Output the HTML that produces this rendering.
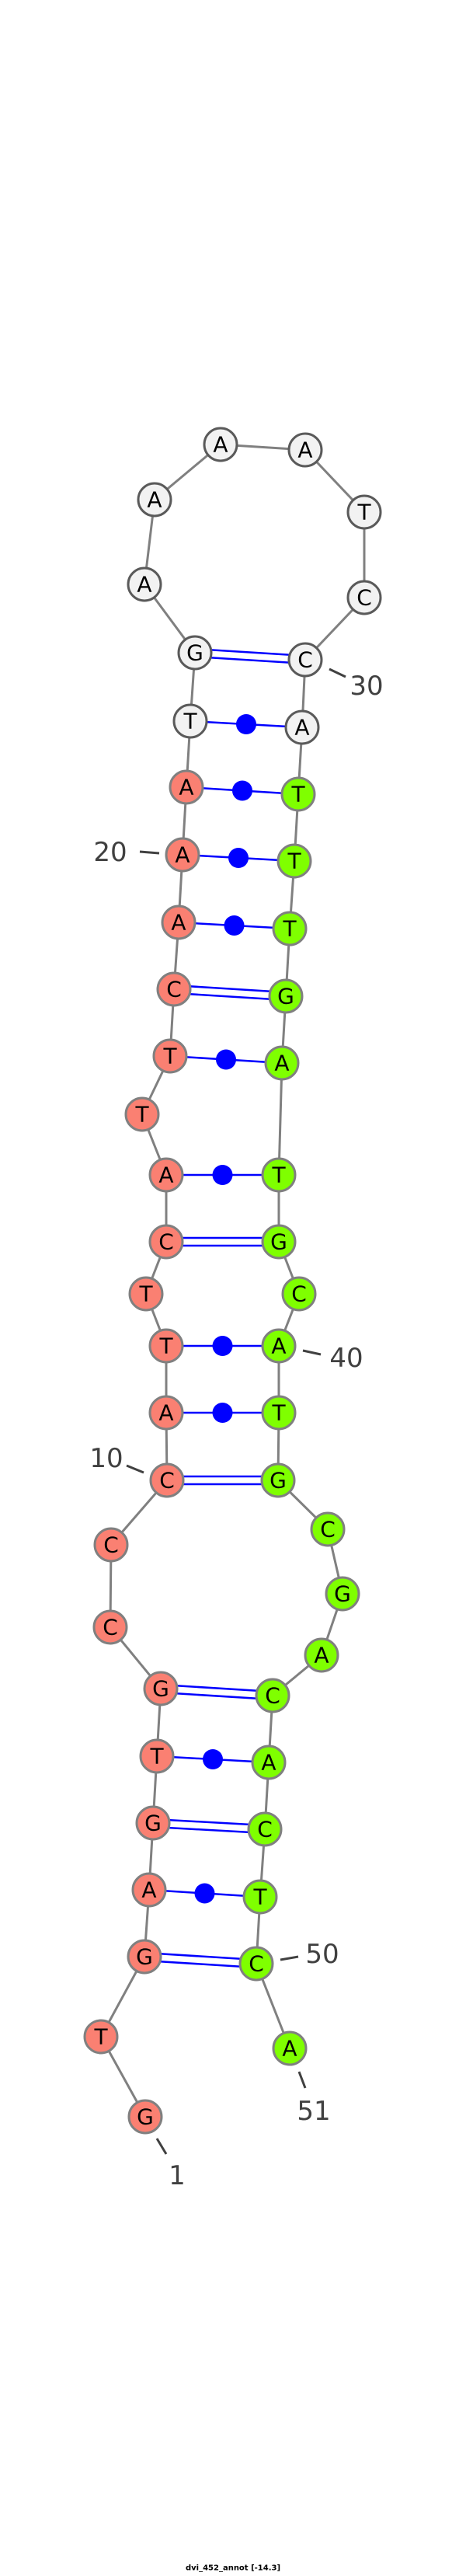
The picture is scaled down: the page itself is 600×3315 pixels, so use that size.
<!DOCTYPE html>
<html><head><meta charset="utf-8"><style>
html,body{margin:0;padding:0;background:#fff;}
svg{display:block;}
.n{font-family:"DejaVu Sans","Liberation Sans",sans-serif;font-size:28px;text-anchor:middle;dominant-baseline:central;fill:#000;}
.l{font-family:"DejaVu Sans","Liberation Sans",sans-serif;font-size:34px;text-anchor:middle;dominant-baseline:central;fill:#404040;}
.r{fill:#fa8072;stroke:#808080;stroke-width:3;}
.g{fill:#7fff00;stroke:#808080;stroke-width:3;}
.w{fill:#f2f2f2;stroke:#5a5a5a;stroke-width:3;}
.p{stroke:#0000ff;stroke-width:2.5;}
.t{stroke:#404040;stroke-width:3;}
</style></head><body>
<svg width="600" height="3315" viewBox="0 0 600 3315" xmlns="http://www.w3.org/2000/svg">
<polyline fill="none" stroke="#808080" stroke-width="3" points="187,2724 130,2621 186,2518 192,2432 197,2346 202,2260 207,2173 142,2094 143,1988 215,1905 214,1818 214,1732 188,1665 214,1598 214,1512 183,1434 219,1359 224,1273 230,1187 235,1100 240,1013 245,928 251,840 186,752 199,643 284,572 393,579 469,659 469,769 393,849 389,936 384,1022 379,1108 373,1195 368,1282 363,1368 359,1512 359,1598 385,1665 359,1732 359,1818 358,1905 422,1968 441,2051 414,2130 351,2182 346,2268 341,2354 335,2441 330,2527 373,2636"/>
<!-- double pairs -->
<g class="p">
<line x1="186" y1="2513" x2="330" y2="2522"/><line x1="186" y1="2523" x2="330" y2="2532"/>
<line x1="197" y1="2341" x2="341" y2="2349"/><line x1="197" y1="2351" x2="341" y2="2359"/>
<line x1="207" y1="2168" x2="351" y2="2177"/><line x1="207" y1="2178" x2="351" y2="2187"/>
<line x1="215" y1="1900" x2="358" y2="1900"/><line x1="215" y1="1910" x2="358" y2="1910"/>
<line x1="214" y1="1593" x2="359" y2="1593"/><line x1="214" y1="1603" x2="359" y2="1603"/>
<line x1="224" y1="1268" x2="368" y2="1277"/><line x1="224" y1="1278" x2="368" y2="1287"/>
<line x1="251" y1="835" x2="393" y2="844"/><line x1="251" y1="845" x2="393" y2="854"/>
<!-- single -->
<line x1="192" y1="2432" x2="335" y2="2441"/>
<line x1="202" y1="2260" x2="346" y2="2268"/>
<line x1="214" y1="1818" x2="359" y2="1818"/>
<line x1="214" y1="1732" x2="359" y2="1732"/>
<line x1="214" y1="1512" x2="359" y2="1512"/>
<line x1="219" y1="1359" x2="363" y2="1368"/>
<line x1="230" y1="1187" x2="373" y2="1195"/>
<line x1="235" y1="1100" x2="379" y2="1108"/>
<line x1="240" y1="1013" x2="384" y2="1022"/>
<line x1="245" y1="928" x2="389" y2="936"/>
</g>
<g fill="#0000ff">
<circle cx="263.5" cy="2436.5" r="13"/>
<circle cx="274" cy="2264" r="13"/>
<circle cx="286.5" cy="1818" r="13"/>
<circle cx="286.5" cy="1732" r="13"/>
<circle cx="286.5" cy="1512" r="13"/>
<circle cx="291" cy="1363.5" r="13"/>
<circle cx="301.5" cy="1191" r="13"/>
<circle cx="307" cy="1104" r="13"/>
<circle cx="312" cy="1017.5" r="13"/>
<circle cx="317" cy="932" r="13"/>
</g>
<!-- ticks -->
<g class="t">
<line x1="424" y1="861" x2="445" y2="871"/>
<line x1="180" y1="1096" x2="205" y2="1098"/>
<line x1="390" y1="1738" x2="413" y2="1743"/>
<line x1="163" y1="1886" x2="185" y2="1895"/>
<line x1="361" y1="2522" x2="384" y2="2518"/>
<line x1="385" y1="2666" x2="393" y2="2687"/>
<line x1="202" y1="2752" x2="214" y2="2772"/>
</g>
<g class="l">
<text x="472" y="883">30</text>
<text x="142" y="1097">20</text>
<text x="446" y="1748">40</text>
<text x="137" y="1877">10</text>
<text x="415" y="2515">50</text>
<text x="404" y="2717">51</text>
<text x="228" y="2800">1</text>
</g>
<!-- nodes -->
<g>
<circle class="r" cx="187" cy="2724" r="21"/><text class="n" x="187" y="2724">G</text>
<circle class="r" cx="130" cy="2621" r="21"/><text class="n" x="130" y="2621">T</text>
<circle class="r" cx="186" cy="2518" r="21"/><text class="n" x="186" y="2518">G</text>
<circle class="r" cx="192" cy="2432" r="21"/><text class="n" x="192" y="2432">A</text>
<circle class="r" cx="197" cy="2346" r="21"/><text class="n" x="197" y="2346">G</text>
<circle class="r" cx="202" cy="2260" r="21"/><text class="n" x="202" y="2260">T</text>
<circle class="r" cx="207" cy="2173" r="21"/><text class="n" x="207" y="2173">G</text>
<circle class="r" cx="142" cy="2094" r="21"/><text class="n" x="142" y="2094">C</text>
<circle class="r" cx="143" cy="1988" r="21"/><text class="n" x="143" y="1988">C</text>
<circle class="r" cx="215" cy="1905" r="21"/><text class="n" x="215" y="1905">C</text>
<circle class="r" cx="214" cy="1818" r="21"/><text class="n" x="214" y="1818">A</text>
<circle class="r" cx="214" cy="1732" r="21"/><text class="n" x="214" y="1732">T</text>
<circle class="r" cx="188" cy="1665" r="21"/><text class="n" x="188" y="1665">T</text>
<circle class="r" cx="214" cy="1598" r="21"/><text class="n" x="214" y="1598">C</text>
<circle class="r" cx="214" cy="1512" r="21"/><text class="n" x="214" y="1512">A</text>
<circle class="r" cx="183" cy="1434" r="21"/><text class="n" x="183" y="1434">T</text>
<circle class="r" cx="219" cy="1359" r="21"/><text class="n" x="219" y="1359">T</text>
<circle class="r" cx="224" cy="1273" r="21"/><text class="n" x="224" y="1273">C</text>
<circle class="r" cx="230" cy="1187" r="21"/><text class="n" x="230" y="1187">A</text>
<circle class="r" cx="235" cy="1100" r="21"/><text class="n" x="235" y="1100">A</text>
<circle class="r" cx="240" cy="1013" r="21"/><text class="n" x="240" y="1013">A</text>
<circle class="w" cx="245" cy="928" r="21"/><text class="n" x="245" y="928">T</text>
<circle class="w" cx="251" cy="840" r="21"/><text class="n" x="251" y="840">G</text>
<circle class="w" cx="186" cy="752" r="21"/><text class="n" x="186" y="752">A</text>
<circle class="w" cx="199" cy="643" r="21"/><text class="n" x="199" y="643">A</text>
<circle class="w" cx="284" cy="572" r="21"/><text class="n" x="284" y="572">A</text>
<circle class="w" cx="393" cy="579" r="21"/><text class="n" x="393" y="579">A</text>
<circle class="w" cx="469" cy="659" r="21"/><text class="n" x="469" y="659">T</text>
<circle class="w" cx="469" cy="769" r="21"/><text class="n" x="469" y="769">C</text>
<circle class="w" cx="393" cy="849" r="21"/><text class="n" x="393" y="849">C</text>
<circle class="w" cx="389" cy="936" r="21"/><text class="n" x="389" y="936">A</text>
<circle class="g" cx="384" cy="1022" r="21"/><text class="n" x="384" y="1022">T</text>
<circle class="g" cx="379" cy="1108" r="21"/><text class="n" x="379" y="1108">T</text>
<circle class="g" cx="373" cy="1195" r="21"/><text class="n" x="373" y="1195">T</text>
<circle class="g" cx="368" cy="1282" r="21"/><text class="n" x="368" y="1282">G</text>
<circle class="g" cx="363" cy="1368" r="21"/><text class="n" x="363" y="1368">A</text>
<circle class="g" cx="359" cy="1512" r="21"/><text class="n" x="359" y="1512">T</text>
<circle class="g" cx="359" cy="1598" r="21"/><text class="n" x="359" y="1598">G</text>
<circle class="g" cx="385" cy="1665" r="21"/><text class="n" x="385" y="1665">C</text>
<circle class="g" cx="359" cy="1732" r="21"/><text class="n" x="359" y="1732">A</text>
<circle class="g" cx="359" cy="1818" r="21"/><text class="n" x="359" y="1818">T</text>
<circle class="g" cx="358" cy="1905" r="21"/><text class="n" x="358" y="1905">G</text>
<circle class="g" cx="422" cy="1968" r="21"/><text class="n" x="422" y="1968">C</text>
<circle class="g" cx="441" cy="2051" r="21"/><text class="n" x="441" y="2051">G</text>
<circle class="g" cx="414" cy="2130" r="21"/><text class="n" x="414" y="2130">A</text>
<circle class="g" cx="351" cy="2182" r="21"/><text class="n" x="351" y="2182">C</text>
<circle class="g" cx="346" cy="2268" r="21"/><text class="n" x="346" y="2268">A</text>
<circle class="g" cx="341" cy="2354" r="21"/><text class="n" x="341" y="2354">C</text>
<circle class="g" cx="335" cy="2441" r="21"/><text class="n" x="335" y="2441">T</text>
<circle class="g" cx="330" cy="2527" r="21"/><text class="n" x="330" y="2527">C</text>
<circle class="g" cx="373" cy="2636" r="21"/><text class="n" x="373" y="2636">A</text>
</g>
<text x="300" y="3305" font-family="'DejaVu Sans','Liberation Sans',sans-serif" font-size="10" font-weight="bold" text-anchor="middle" dominant-baseline="central" fill="#000">dvi_452_annot [-14.3]</text>
</svg>
</body></html>
